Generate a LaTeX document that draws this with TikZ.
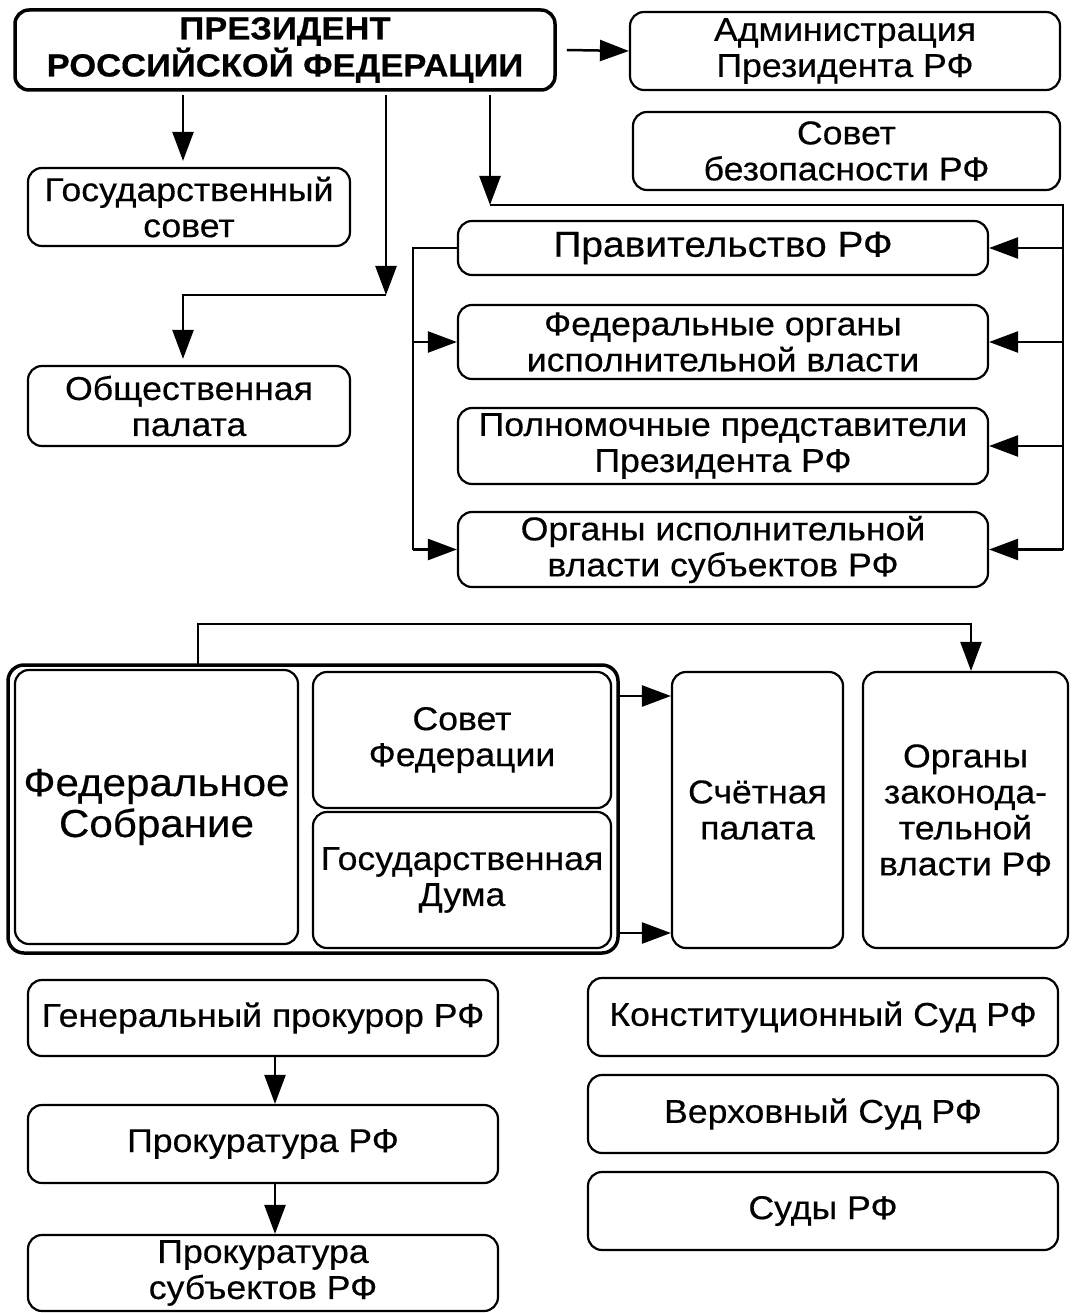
\documentclass[tikz,border=0pt]{standalone}
\usepackage{fontspec}
\setmainfont{Liberation Sans}[FakeStretch=1.08,FakeBold=0.4]
\usetikzlibrary{arrows.meta}
\tikzset{
  box/.style={draw, line width=2.2pt, rounded corners=14pt, align=center, inner sep=0pt,
    font=\fontsize{33}{36}\selectfont},
  line/.style={line width=2.5pt},
  arr/.style={line width=2.5pt, -{Triangle[length=29pt,width=21pt]}},
}
\begin{document}
\begin{tikzpicture}[x=1pt,y=-1pt]
\useasboundingbox[fill=white] (0,0) rectangle (1071,1313);
% top part
\node[box, line width=3.5pt, minimum width=540pt, minimum height=80pt, font=\fontsize{32}{37}\selectfont\bfseries] (pres) at (285,50) {ПРЕЗИДЕНТ\\РОССИЙСКОЙ ФЕДЕРАЦИИ};
\node[box, minimum width=430pt, minimum height=78pt] (admin) at (845,51) {Администрация\\Президента РФ};
\node[box, minimum width=427pt, minimum height=78pt] (sovbez) at (846.5,151) {Совет\\безопасности РФ};
\node[box, minimum width=322pt, minimum height=78pt] (gossov) at (189,207) {Государственный\\совет};
\node[box, minimum width=322pt, minimum height=80pt] (obsh) at (189,406) {Общественная\\палата};
\node[box, minimum width=530pt, minimum height=54pt, font=\fontsize{36}{38}\selectfont] (prav) at (723,248) {Правительство РФ};
\node[box, minimum width=530pt, minimum height=74pt] (feo) at (723,342) {Федеральные органы\\исполнительной власти};
\node[box, minimum width=530pt, minimum height=76pt] (polnom) at (723,446) {Полномочные представители\\Президента РФ};
\node[box, minimum width=530pt, minimum height=75pt] (oivs) at (723,549.5) {Органы исполнительной\\власти субъектов РФ};
% connectors top
\coordinate (p1) at (183,95);
\coordinate (p2) at (386,95);
\coordinate (c1) at (386,295);
\coordinate (p3) at (490,95);
\coordinate (rb) at (1063,205);
\coordinate (lb) at (413,248);
\draw[arr] ([xshift=10pt]pres.east) -- (admin.west);
\draw[arr, shorten >=6pt] (p1) -- (p1 |- gossov.north);
\draw[arr] (p2) -- (c1);
\draw[arr, shorten >=6pt] (c1) -| ([xshift=-6pt]obsh.north);
\draw[arr] (p3) -- (p3 |- rb);
\draw[line] (p3 |- rb) -- (rb) -- (rb |- oivs.east);
\draw[arr] (rb |- prav.east) -- (prav.east);
\draw[arr] (rb |- feo.east) -- (feo.east);
\draw[arr] (rb |- polnom.east) -- (polnom.east);
\draw[arr] (rb |- oivs.east) -- (oivs.east);
\draw[line] (prav.west) -- (lb) -- (lb |- oivs.west);
\draw[arr] (lb |- feo.west) -- (feo.west);
\draw[arr] (lb |- oivs.west) -- (oivs.west);
% federal assembly
\node[draw, line width=3.5pt, rounded corners=16pt, minimum width=610pt, minimum height=288pt, inner sep=0pt] (frame) at (313,809) {};
\node[box, minimum width=283pt, minimum height=274pt, font=\fontsize{39}{41}\selectfont] (fs) at (156.5,807) {Федеральное\\Собрание};
\node[box, minimum width=298pt, minimum height=136pt] (sf) at (462,740) {Совет\\Федерации};
\node[box, minimum width=298pt, minimum height=136pt] (gd) at (462,880) {Государственная\\Дума};
\node[box, minimum width=171pt, minimum height=276pt] (sp) at (757.5,810) {Счётная\\палата};
\node[box, minimum width=205pt, minimum height=276pt] (ozv) at (965.5,810) {Органы\\законода-\\тельной\\власти РФ};
\coordinate (f1) at (198,665);
\coordinate (f2) at (971,624);
\draw[arr] (f1) |- (f2) -- (f2 |- ozv.north);
\coordinate (s1) at (618,696);
\coordinate (s2) at (618,933);
\draw[arr] (s1) -- (s1 -| sp.west);
\draw[arr] (s2) -- (s2 -| sp.west);
% bottom
\node[box, minimum width=470pt, minimum height=76pt] (genprok) at (263,1018) {Генеральный прокурор РФ};
\node[box, minimum width=470pt, minimum height=78pt] (prok) at (263,1144) {Прокуратура РФ};
\node[box, minimum width=470pt, minimum height=76pt] (proksub) at (263,1273) {Прокуратура\\субъектов РФ};
\node[box, minimum width=470pt, minimum height=78pt] (ks) at (823,1017) {Конституционный Суд РФ};
\node[box, minimum width=470pt, minimum height=78pt] (vs) at (823,1114) {Верховный Суд РФ};
\node[box, minimum width=470pt, minimum height=78pt] (sudy) at (823,1211) {Суды РФ};
\draw[arr] ([xshift=12pt]genprok.south) -- ([xshift=12pt]prok.north);
\draw[arr] ([xshift=12pt]prok.south) -- ([xshift=12pt]proksub.north);
\end{tikzpicture}
\end{document}
